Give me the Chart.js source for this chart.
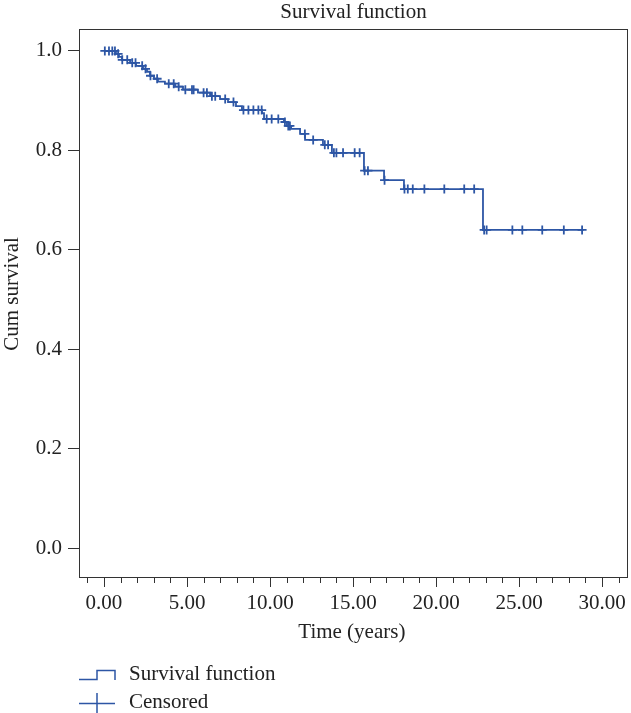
<!DOCTYPE html>
<html>
<head>
<meta charset="utf-8">
<script src="https://cdn.jsdelivr.net/npm/chart.js@4/dist/chart.umd.min.js"></script>
<style>
  html, body { margin: 0; padding: 0; background: #fff; }
  #wrap { width: 631px; height: 713px; position: relative; }
</style>
</head>
<body>
<div id="wrap"><canvas id="c" width="631" height="713"></canvas></div>
<script>
// ---- Data ----
const eventTimes = [0, 0.72, 0.9, 1.08, 1.57, 1.93, 2.35, 2.59, 2.77, 3.01, 3.25, 3.67, 4.28, 4.76, 5.66, 6.39, 6.99, 7.47, 7.95, 8.31, 9.52, 9.64, 10.84, 11.02, 11.27, 11.81, 12.11, 13.19, 13.73, 15.66, 16.87, 18.07, 22.83, 28.9];
const survival   = [1.0, 0.994, 0.988, 0.982, 0.976, 0.970, 0.964, 0.958, 0.950, 0.944, 0.938, 0.934, 0.928, 0.922, 0.916, 0.909, 0.903, 0.897, 0.889, 0.881, 0.875, 0.863, 0.857, 0.849, 0.843, 0.833, 0.821, 0.811, 0.795, 0.759, 0.740, 0.722, 0.640, 0.640];

const censoredTimes = [0.05, 0.3, 0.5, 0.66, 0.85, 1.1, 1.4, 1.7, 1.9, 2.3, 2.5, 2.8, 3.2, 3.9, 4.2, 4.5, 4.9, 5.3, 5.4, 6.0, 6.2, 6.5, 6.7, 7.3, 7.8, 8.4, 8.7, 9.0, 9.3, 9.5, 9.8, 10.1, 10.5, 10.9, 11.1, 11.2, 12.1, 12.6, 13.3, 13.5, 13.85, 14.0, 14.4, 15.1, 15.4, 15.7, 15.9, 16.9, 18.1, 18.3, 18.6, 19.3, 20.5, 21.7, 22.3, 22.9, 23.05, 24.6, 25.2, 26.4, 27.7, 28.8];
const censoredSurv  = [1.0, 1.0, 1.0, 1.0, 0.994, 0.982, 0.982, 0.976, 0.976, 0.970, 0.964, 0.950, 0.944, 0.934, 0.934, 0.928, 0.922, 0.922, 0.922, 0.916, 0.916, 0.909, 0.909, 0.903, 0.897, 0.881, 0.881, 0.881, 0.881, 0.881, 0.863, 0.863, 0.863, 0.857, 0.849, 0.849, 0.833, 0.821, 0.811, 0.811, 0.795, 0.795, 0.795, 0.795, 0.795, 0.759, 0.759, 0.740, 0.722, 0.722, 0.722, 0.722, 0.722, 0.722, 0.722, 0.640, 0.640, 0.640, 0.640, 0.640, 0.640, 0.640];

const xTickValues = [0, 5, 10, 15, 20, 25, 30];
const yTickValues = [0, 0.2, 0.4, 0.6, 0.8, 1.0];

const titleText = 'Survival function';
const xLabel = 'Time (years)';
const yLabel = 'Cum survival';
const legendLabels = ['Survival function', 'Censored'];

// ---- Styles ----
const BLUE = '#2d56a5';
const AXIS = '#333333';
const TEXT = '#222222';
const FONT = '"Liberation Serif", "DejaVu Serif", serif';
const FS = 21;
const FRAME_RIGHT = 628;

const kmData = eventTimes.map((t, i) => ({ x: t, y: survival[i] }));
const cenData = censoredTimes.map((t, i) => ({ x: t, y: censoredSurv[i] }));

const framePlugin = {
  id: 'frame',
  afterDraw(chart) {
    const ctx = chart.ctx;
    const a = chart.chartArea;
    const xs = chart.scales.x;
    const left = Math.round(a.left);
    ctx.save();
    ctx.strokeStyle = AXIS;
    ctx.lineWidth = 1;
    ctx.strokeRect(left + 0.5, Math.round(a.top) + 0.5, FRAME_RIGHT - left - 1, Math.round(a.bottom - a.top));
    // x ticks: major every 5, minor every 1
    for (let v = -1; v <= 31; v++) {
      const px = Math.round(xs.getPixelForValue(v)) + 0.5;
      const len = (v % 5 === 0) ? 10 : 6;
      ctx.beginPath();
      ctx.moveTo(px, a.bottom);
      ctx.lineTo(px, a.bottom + len);
      ctx.stroke();
    }
    ctx.fillStyle = TEXT;
    ctx.font = FS + 'px ' + FONT;
    ctx.textBaseline = 'middle';
    ctx.textAlign = 'center';
    // title centred over the plot frame
    ctx.fillText(titleText, (left + FRAME_RIGHT) / 2, 12);
    // y axis title
    ctx.save();
    ctx.translate(12, 294);
    ctx.rotate(-Math.PI / 2);
    ctx.fillText(yLabel, 0, 0);
    ctx.restore();
    // legend
    ctx.strokeStyle = BLUE;
    ctx.lineWidth = 1.5;
    ctx.beginPath();
    ctx.moveTo(79, 679.5); ctx.lineTo(97, 679.5); ctx.lineTo(97, 670.5); ctx.lineTo(115, 670.5); ctx.lineTo(115, 680);
    ctx.stroke();
    ctx.beginPath();
    ctx.moveTo(79, 703.5); ctx.lineTo(115, 703.5);
    ctx.moveTo(97, 693); ctx.lineTo(97, 713);
    ctx.stroke();
    ctx.textAlign = 'left';
    ctx.fillText(legendLabels[0], 129, 674);
    ctx.fillText(legendLabels[1], 129, 702);
    ctx.restore();
  }
};

new Chart(document.getElementById('c'), {
  type: 'scatter',
  data: {
    datasets: [
      { type: 'line', label: legendLabels[0], data: kmData, stepped: 'before', borderColor: BLUE, borderWidth: 1.8, pointRadius: 0, fill: false, order: 2 },
      { type: 'scatter', label: legendLabels[1], data: cenData, pointStyle: 'cross', pointRadius: 4.5, borderColor: BLUE, backgroundColor: BLUE, borderWidth: 1.8, order: 1 }
    ]
  },
  options: {
    responsive: false,
    animation: false,
    devicePixelRatio: 1,
    layout: { padding: { top: 29, left: 0, right: 0, bottom: 0 } },
    plugins: {
      legend: { display: false },
      tooltip: { enabled: false },
      title: { display: false }
    },
    scales: {
      x: {
        type: 'linear', min: -1.506, max: 31.367,
        afterBuildTicks(scale) { scale.ticks = xTickValues.map(v => ({ value: v })); },
        afterFit(scale) { scale.height = 136; scale.paddingLeft = 0; scale.paddingRight = 0; },
        grid: { display: true, drawOnChartArea: false, drawTicks: false },
        border: { display: true, color: AXIS, width: 1 },
        ticks: { color: TEXT, font: { family: FONT, size: FS }, padding: 14, maxRotation: 0, autoSkip: false, callback: v => Number(v).toFixed(2) },
        title: { display: true, text: xLabel, color: TEXT, font: { family: FONT, size: FS }, padding: { top: 0, bottom: 68 } }
      },
      y: {
        type: 'linear', min: -0.058, max: 1.044,
        afterBuildTicks(scale) { scale.ticks = yTickValues.map(v => ({ value: v })); },
        afterFit(scale) { scale.width = 79; scale.paddingTop = 0; scale.paddingBottom = 0; },
        grid: { display: true, drawOnChartArea: false, drawTicks: true, tickLength: 11, tickColor: AXIS },
        border: { display: true, color: AXIS, width: 1 },
        ticks: { color: TEXT, font: { family: FONT, size: FS }, padding: 6, autoSkip: false, callback: v => Number(v).toFixed(1) },
        title: { display: false }
      }
    }
  },
  plugins: [framePlugin]
});
</script>
</body>
</html>
